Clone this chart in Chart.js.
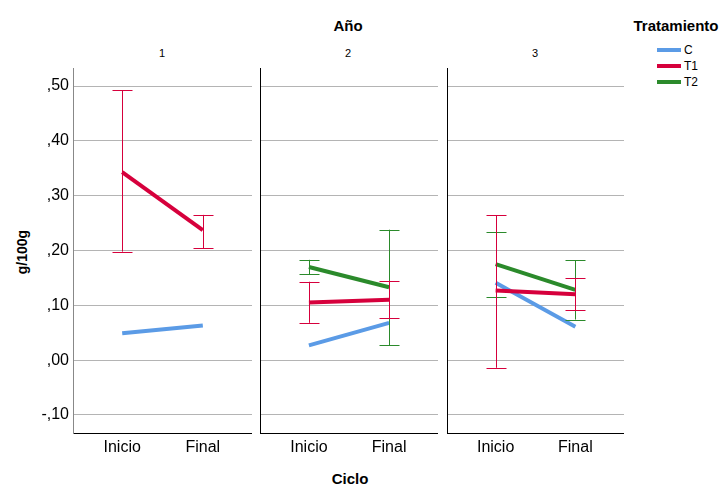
<!DOCTYPE html>
<html>
<head>
<meta charset="utf-8">
<script src="https://cdn.jsdelivr.net/npm/chart.js@4.4.0/dist/chart.umd.min.js"></script>
<style>
body { margin: 0; background: #fff; font-family: "Liberation Sans", Arial, sans-serif; }
#wrap { position: relative; width: 723px; height: 484px; overflow: hidden; }
canvas { position: absolute; }
.t { position: absolute; color: #000; white-space: nowrap; transform: translate(-50%, -50%); }
.b { font-weight: bold; font-size: 15px; }
.leg { position: absolute; left: 657px; width: 24px; height: 4px; }
.legt { position: absolute; left: 684px; font-size: 12px; transform: translateY(-50%); }
</style>
</head>
<body>
<div id="wrap">
    <div class="t b" style="left:348px; top:25px;">Año</div>
    <div class="t b" style="left:676px; top:25px;">Tratamiento</div>
    <div class="t b" style="left:350px; top:478px;">Ciclo</div>
    <div class="t b" style="left:22px; top:252px; font-size:14px; transform:translate(-50%,-50%) rotate(-90deg);">g/100g</div>
    <div id="panelTitles"></div>
    <div id="legend"></div>
    <canvas id="p1" width="252" height="400" style="left:0px; top:60px;"></canvas>
    <canvas id="p2" width="180" height="400" style="left:258px; top:60px;"></canvas>
    <canvas id="p3" width="179" height="400" style="left:445px; top:60px;"></canvas>
</div>
<script>
// data
var anios = ['1', '2', '3'];
var ciclos = ['Inicio', 'Final'];
var tratamientos = ['C', 'T1', 'T2'];
var colores = ['#5b9be6', '#d6003c', '#2b8a2b'];
var yTicks = [-0.1, 0, 0.1, 0.2, 0.3, 0.4, 0.5];

// medias por año [Inicio, Final]
var mediaC  = [[0.049, 0.063], [0.027, 0.068], [0.141, 0.061]];
var mediaT1 = [[0.343, 0.237], [0.105, 0.110], [0.127, 0.120]];
var mediaT2 = [null, [0.170, 0.133], [0.175, 0.128]];
// barras de error
var loT1 = [[0.198, 0.204], [0.068, 0.076], [-0.014, 0.091]];
var hiT1 = [[0.492, 0.265], [0.143, 0.145], [0.264, 0.149]];
var loT2 = [null, [0.157, 0.027], [0.116, 0.074]];
var hiT2 = [null, [0.183, 0.238], [0.234, 0.182]];

var medias = [mediaC, mediaT1, mediaT2];
var los = [null, loT1, loT2];
var his = [null, hiT1, hiT2];

// titulos y leyenda
var titleX = [162, 348, 535];
var pt = document.getElementById('panelTitles');
anios.forEach(function(a, i) {
    var d = document.createElement('div');
    d.className = 't';
    d.style.left = titleX[i] + 'px';
    d.style.top = '53px';
    d.style.fontSize = '11px';
    d.textContent = a;
    pt.appendChild(d);
});
var lg = document.getElementById('legend');
tratamientos.forEach(function(t, i) {
    var y = 50 + i * 16;
    var l = document.createElement('div');
    l.className = 'leg';
    l.style.top = (y - 2) + 'px';
    l.style.background = colores[i];
    lg.appendChild(l);
    var s = document.createElement('div');
    s.className = 'legt';
    s.style.top = y + 'px';
    s.textContent = t;
    lg.appendChild(s);
});

function fmt(v) {
    var s = Math.abs(v).toFixed(2).replace('0.', ',');
    return (v < -1e-9 ? '-' : '') + s;
}

var errorBars = {
    id: 'errorBars',
    afterDatasetsDraw: function(chart) {
        var ctx = chart.ctx;
        var xs = chart.scales.x, ys = chart.scales.y;
        chart.data.datasets.forEach(function(ds) {
            if (!ds.errLo) return;
            ctx.save();
            ctx.strokeStyle = ds.borderColor;
            ctx.lineWidth = 1;
            ds.data.forEach(function(p, i) {
                var x = Math.round(xs.getPixelForValue(p.x)) + 0.5;
                var y1 = ys.getPixelForValue(ds.errLo[i]);
                var y2 = ys.getPixelForValue(ds.errHi[i]);
                ctx.beginPath();
                ctx.moveTo(x, y1); ctx.lineTo(x, y2);
                ctx.moveTo(x - 10, Math.round(y1) + 0.5); ctx.lineTo(x + 10, Math.round(y1) + 0.5);
                ctx.moveTo(x - 10, Math.round(y2) + 0.5); ctx.lineTo(x + 10, Math.round(y2) + 0.5);
                ctx.stroke();
            });
            ctx.restore();
        });
    }
};

function makePanel(id, k) {
    var first = k === 0;
    var datasets = [];
    for (var t = 0; t < tratamientos.length; t++) {
        var m = medias[t][k];
        if (!m) continue;
        datasets.unshift({
            label: tratamientos[t],
            data: m.map(function(v, i) { return { x: i, y: v }; }),
            borderColor: colores[t],
            backgroundColor: colores[t],
            borderWidth: 4,
            pointRadius: 0,
            tension: 0,
            errLo: los[t] ? los[t][k] : null,
            errHi: his[t] ? his[t][k] : null
        });
    }
    new Chart(document.getElementById(id), {
        type: 'line',
        data: { datasets: datasets },
        plugins: [errorBars],
        options: {
            responsive: false,
            animation: false,
            layout: { padding: { top: 8, right: 0, left: 0, bottom: 0 } },
            plugins: { legend: { display: false }, tooltip: { enabled: false } },
            scales: {
                x: {
                    type: 'linear',
                    min: -0.61,
                    max: 1.61,
                    afterBuildTicks: function(axis) {
                        axis.ticks = ciclos.map(function(c, i) { return { value: i }; });
                    },
                    afterFit: function(axis) {
                        axis.height = 27;
                        axis.paddingLeft = 0;
                        axis.paddingRight = 0;
                    },
                    grid: { display: false, drawTicks: false },
                    border: { display: true, color: '#000', width: 1 },
                    ticks: {
                        color: '#000',
                        padding: 5,
                        maxRotation: 0,
                        autoSkip: false,
                        font: { family: '"Liberation Sans", Arial', size: 16 },
                        callback: function(v, i) { return ciclos[i]; }
                    }
                },
                y: {
                    min: -0.133,
                    max: 0.533,
                    afterBuildTicks: function(axis) {
                        axis.ticks = yTicks.map(function(v) { return { value: v }; });
                    },
                    afterFit: function(axis) {
                        axis.width = first ? 73 : 2;
                        axis.paddingTop = 0;
                        axis.paddingBottom = 0;
                    },
                    grid: { color: '#b4b4b4', lineWidth: 1, drawTicks: false },
                    border: { display: true, color: first ? '#888' : '#000', width: 1 },
                    ticks: {
                        display: first,
                        color: '#000',
                        padding: 4,
                        font: { family: '"Liberation Sans", Arial', size: 16 },
                        callback: function(v) { return fmt(v); }
                    }
                }
            }
        }
    });
}

makePanel('p1', 0);
makePanel('p2', 1);
makePanel('p3', 2);
</script>
</body>
</html>
